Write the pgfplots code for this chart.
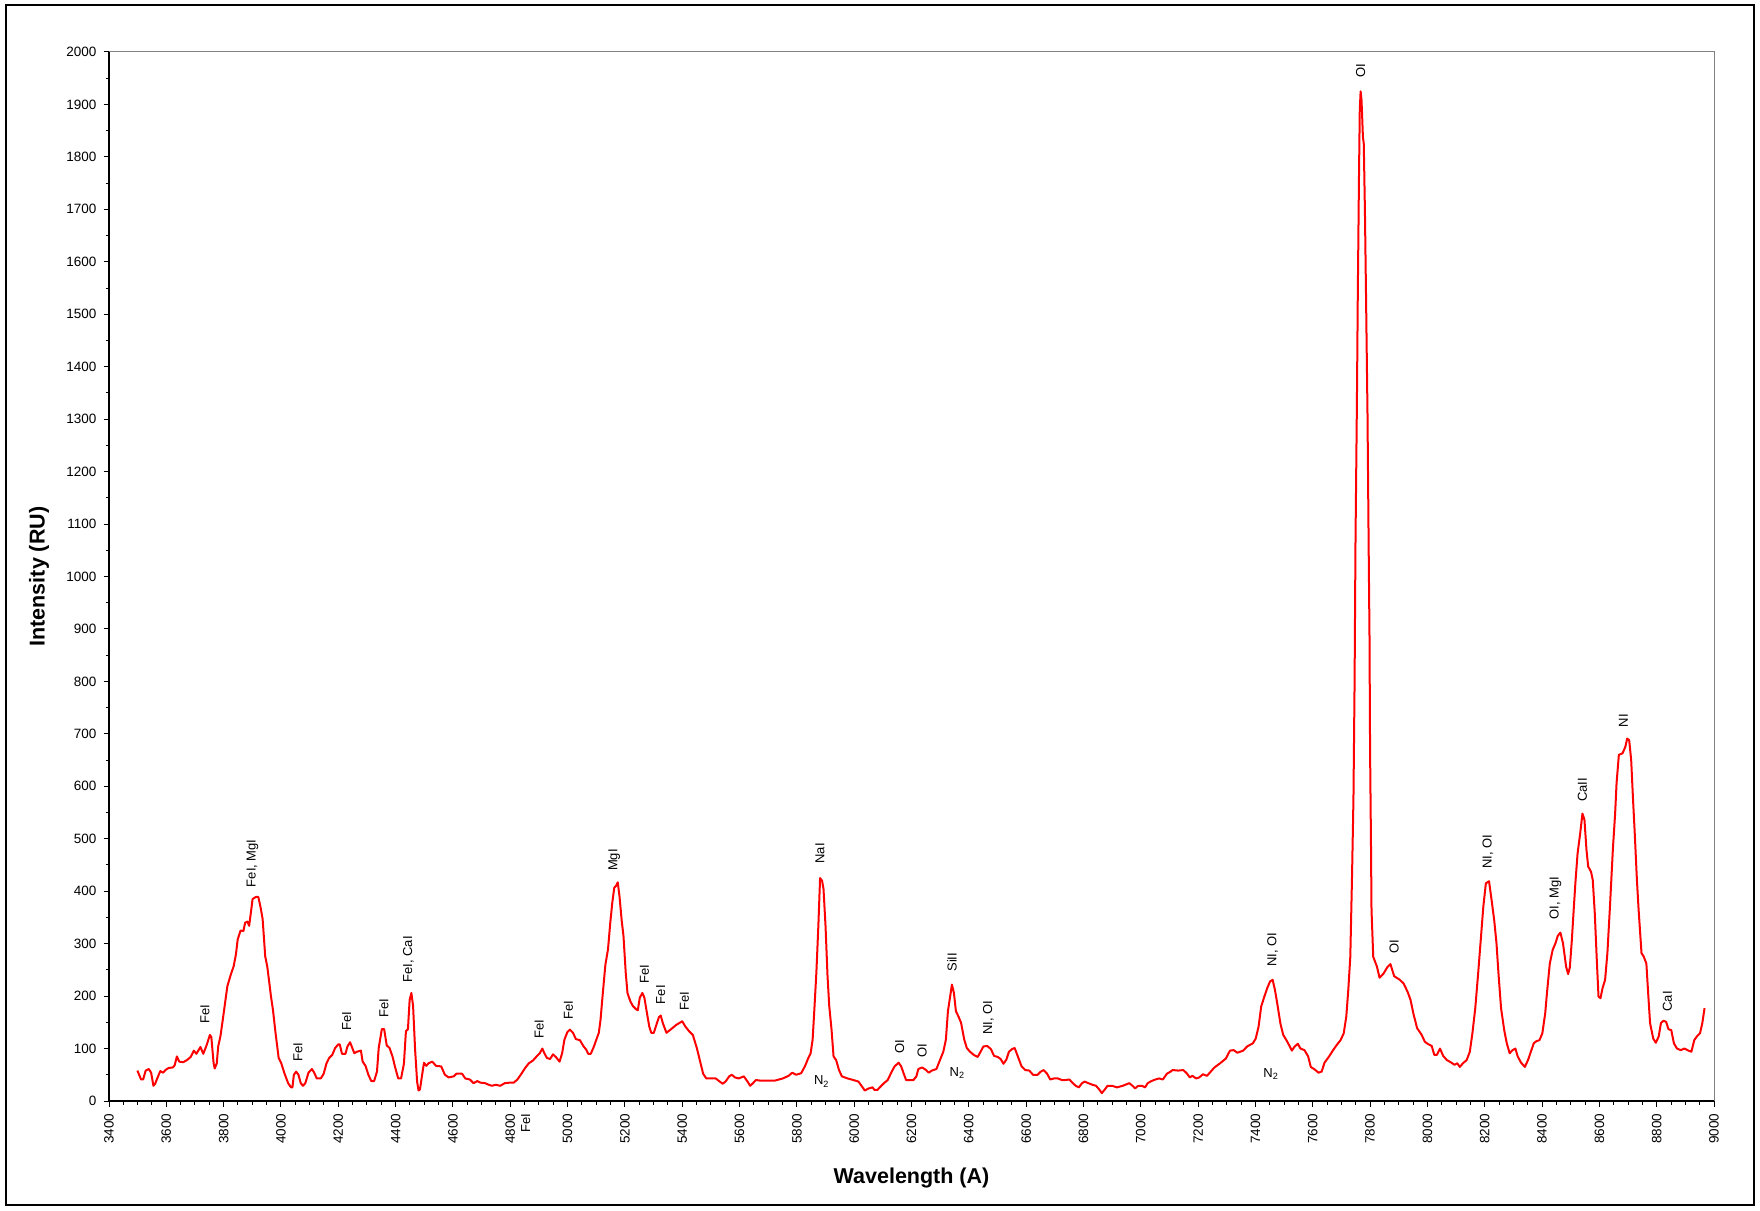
\documentclass[border=0pt]{standalone}
\usepackage{fontspec}
\setmainfont{Liberation Sans}
\usepackage{pgfplots}
\pgfplotsset{compat=1.18}

\begin{document}
\begin{tikzpicture}[
  lbl/.style={rotate=90, anchor=west, inner sep=0pt, font=\fontsize{6.5}{7.5}\selectfont},
  n2/.style={anchor=center, inner sep=0pt, font=\fontsize{6.5}{7.5}\selectfont},
]
\path[use as bounding box] (0pt,0pt) rectangle (880pt,605pt);
\draw[line width=1pt] (3pt,2.5pt) rectangle (877pt,602.5pt);
\begin{axis}[
  at={(54.5pt,54.5pt)}, anchor=south west, scale only axis,
  width=802.5pt, height=524.5pt,
  xmin=3400, xmax=9000, ymin=0, ymax=2000,
  xtick distance=200, ytick distance=100,
  minor x tick num=3, minor y tick num=1,
  axis x line*=bottom, axis y line*=left,
  axis line style={black, line width=0.6pt},
  tick align=outside,
  major tick length=2.75pt, minor tick length=1.75pt,
  tick style={black, line width=0.5pt},
  xticklabel style={rotate=90, anchor=east},
  tick label style={font=\fontsize{6.75}{8}\selectfont},
  /pgf/number format/1000 sep={},
  /pgf/number format/assume math mode=true,
  xlabel={Wavelength (A)}, ylabel={Intensity (RU)},
  label style={font=\bfseries\fontsize{10.75}{12}\selectfont},
  xlabel style={at={(axis description cs:0.5,-0.0736)}, anchor=center},
  ylabel style={at={(axis description cs:-0.0436,0.5)}, anchor=center},
  clip=false,
]
\draw[gray, line width=0.5pt] (rel axis cs:0,1) -- (rel axis cs:1,1) -- (rel axis cs:1,0);

\addplot[red, line width=1pt, no markers, line join=round] table[x=wl, y=int] {
wl int
3499 58
3512 41
3519 41
3528 58
3539 61
3547 54
3555 29
3561 33
3572 48
3579 57
3589 54
3597 59
3608 63
3623 64
3629 68
3637 85
3645 75
3659 74
3672 78
3685 84
3696 96
3705 90
3719 103
3729 90
3741 107
3752 126
3757 122
3765 72
3769 62
3776 72
3781 104
3789 124
3797 155
3805 187
3813 219
3825 241
3835 257
3843 280
3849 308
3859 325
3869 324
3875 340
3883 342
3889 334
3895 359
3901 385
3912 389
3921 389
3929 369
3936 347
3945 276
3952 257
3959 227
3965 200
3972 174
3981 130
3992 82
4001 72
4012 53
4025 34
4035 26
4040 26
4045 50
4053 56
4061 50
4069 34
4077 29
4085 34
4096 54
4108 61
4116 54
4125 43
4139 43
4149 52
4159 72
4168 82
4179 88
4189 101
4200 108
4205 108
4213 90
4225 90
4232 104
4241 112
4249 101
4256 91
4265 94
4279 96
4285 75
4295 67
4305 50
4315 38
4325 38
4335 56
4341 101
4352 137
4360 137
4369 106
4379 101
4389 85
4399 63
4409 43
4419 43
4429 71
4436 133
4443 137
4449 193
4455 206
4461 181
4468 98
4475 37
4480 20
4485 22
4492 48
4499 73
4507 67
4515 72
4528 75
4541 67
4559 66
4572 50
4585 45
4603 47
4612 52
4632 52
4643 43
4659 41
4672 34
4685 38
4696 35
4712 34
4725 31
4736 29
4749 31
4765 29
4781 34
4799 35
4812 35
4825 41
4839 52
4852 63
4865 72
4879 77
4892 85
4903 91
4912 100
4919 91
4928 82
4939 80
4949 89
4959 84
4972 75
4981 91
4989 117
4999 131
5008 136
5019 130
5029 118
5043 116
5056 104
5065 98
5072 90
5081 90
5092 104
5101 118
5109 130
5115 155
5123 206
5132 260
5141 289
5149 340
5156 378
5163 407
5169 410
5175 417
5181 391
5189 343
5195 315
5203 244
5209 206
5219 190
5228 181
5239 175
5245 173
5252 197
5261 206
5268 197
5275 174
5285 142
5292 130
5301 130
5312 149
5319 160
5325 163
5332 149
5345 130
5359 136
5379 145
5400 152
5411 142
5424 133
5437 126
5451 101
5464 72
5473 52
5484 43
5504 43
5517 43
5531 37
5541 33
5551 37
5564 47
5573 50
5584 45
5597 43
5615 47
5628 37
5637 29
5647 34
5657 40
5671 39
5697 39
5724 39
5751 43
5771 48
5784 54
5797 50
5815 53
5828 66
5840 82
5848 91
5855 117
5861 174
5868 244
5875 334
5881 425
5888 420
5893 404
5900 334
5907 238
5913 181
5921 136
5928 85
5937 78
5947 59
5957 47
5977 43
5997 40
6015 37
6028 27
6037 20
6051 24
6064 26
6071 21
6081 21
6091 27
6104 34
6117 40
6131 56
6141 66
6155 73
6164 66
6173 52
6181 40
6191 40
6207 40
6217 47
6224 61
6237 64
6251 59
6260 54
6271 58
6287 61
6297 75
6311 94
6320 117
6327 171
6335 200
6341 222
6348 206
6355 171
6364 161
6373 149
6384 117
6393 101
6404 94
6417 88
6431 84
6441 94
6451 104
6464 105
6477 99
6488 86
6501 84
6511 80
6521 71
6531 79
6540 94
6551 99
6560 101
6571 85
6584 66
6597 59
6611 58
6624 50
6640 50
6651 56
6661 59
6673 52
6684 41
6697 43
6711 43
6724 40
6737 40
6751 41
6761 35
6773 29
6784 26
6795 34
6804 37
6817 34
6831 31
6844 29
6855 22
6864 15
6873 21
6884 29
6900 29
6917 26
6937 29
6960 34
6971 29
6980 24
6991 29
7004 29
7015 26
7024 34
7037 38
7051 41
7064 43
7077 41
7091 52
7104 56
7111 59
7131 58
7148 59
7160 53
7171 45
7180 48
7193 43
7204 45
7217 51
7231 48
7244 56
7257 64
7277 72
7297 81
7311 96
7324 97
7337 92
7357 96
7371 104
7391 110
7401 119
7411 142
7420 180
7431 199
7441 215
7451 228
7460 231
7468 212
7477 183
7487 148
7497 126
7508 116
7517 107
7527 96
7537 104
7548 109
7557 100
7571 97
7584 85
7593 65
7607 60
7620 54
7631 56
7641 73
7657 85
7671 97
7684 107
7697 116
7708 129
7717 161
7724 212
7731 275
7737 428
7742 577
7746 802
7749 1059
7754 1329
7757 1529
7761 1748
7764 1889
7767 1925
7770 1909
7772 1883
7775 1838
7778 1825
7782 1697
7786 1529
7791 1310
7795 1059
7798 885
7800 667
7803 499
7805 364
7811 275
7824 256
7833 235
7847 243
7860 255
7871 261
7884 238
7904 231
7917 224
7931 208
7941 193
7951 167
7964 139
7980 126
7991 113
8001 109
8015 105
8024 88
8033 88
8044 100
8055 86
8068 78
8084 73
8095 69
8104 72
8113 65
8124 72
8137 78
8148 94
8157 129
8167 177
8177 243
8187 313
8195 370
8204 415
8215 419
8224 383
8233 345
8241 301
8248 243
8257 177
8268 135
8277 110
8287 91
8297 97
8307 100
8315 85
8327 73
8340 65
8351 78
8361 94
8371 110
8380 114
8391 116
8401 129
8411 167
8417 205
8427 262
8437 288
8447 301
8455 315
8464 321
8473 301
8484 256
8491 242
8497 255
8504 307
8511 370
8517 421
8524 472
8533 510
8541 548
8548 536
8555 479
8561 447
8571 437
8577 421
8584 358
8591 269
8597 199
8604 196
8611 215
8620 231
8628 282
8637 371
8647 479
8655 548
8660 606
8668 660
8681 663
8691 676
8697 691
8704 688
8711 650
8717 580
8724 504
8731 421
8737 364
8747 282
8755 275
8764 262
8771 199
8777 148
8788 119
8797 111
8807 123
8815 149
8824 153
8833 151
8841 137
8851 135
8860 110
8871 100
8884 97
8897 100
8911 96
8921 94
8931 116
8940 123
8951 129
8959 148
8967 177
};

% line identifications
\node[lbl] at (axis cs:3735,147) {FeI};
\node[lbl] at (axis cs:3901,407) {FeI, MgI};
\node[lbl] at (axis cs:4059,75) {FeI};
\node[lbl] at (axis cs:4229,134) {FeI};
\node[lbl] at (axis cs:4359,158) {FeI};
\node[lbl] at (axis cs:4445,225) {FeI, CaI};
\node[lbl, anchor=east] at (axis cs:4854,-24) {FeI};
\node[lbl] at (axis cs:4901,118) {FeI};
\node[lbl] at (axis cs:5003,154) {FeI};
\node[lbl] at (axis cs:5163,438) {MgI};
\node[lbl] at (axis cs:5268,223) {FeI};
\node[lbl] at (axis cs:5325,184) {FeI};
\node[lbl] at (axis cs:5408,171) {FeI};
\node[lbl] at (axis cs:5881,452) {NaI};
\node[lbl] at (axis cs:6159,89) {OI};
\node[lbl] at (axis cs:6237,82) {OI};
\node[lbl] at (axis cs:6341,246) {SiII};
\node[lbl] at (axis cs:6468,126) {NI, OI};
\node[lbl] at (axis cs:7460,255) {NI, OI};
\node[lbl] at (axis cs:7767,1951) {OI};
\node[lbl] at (axis cs:7884,280) {OI};
\node[lbl] at (axis cs:8211,442) {NI, OI};
\node[lbl] at (axis cs:8447,345) {OI, MgI};
\node[lbl] at (axis cs:8541,570) {CaII};
\node[lbl] at (axis cs:8684,712) {NI};
\node[lbl] at (axis cs:8837,170) {CaI};
\node[n2] at (axis cs:5887,37) {N\textsubscript{2}};
\node[n2] at (axis cs:6360,54) {N\textsubscript{2}};
\node[n2] at (axis cs:7455,51) {N\textsubscript{2}};
\end{axis}
\end{tikzpicture}
\end{document}
